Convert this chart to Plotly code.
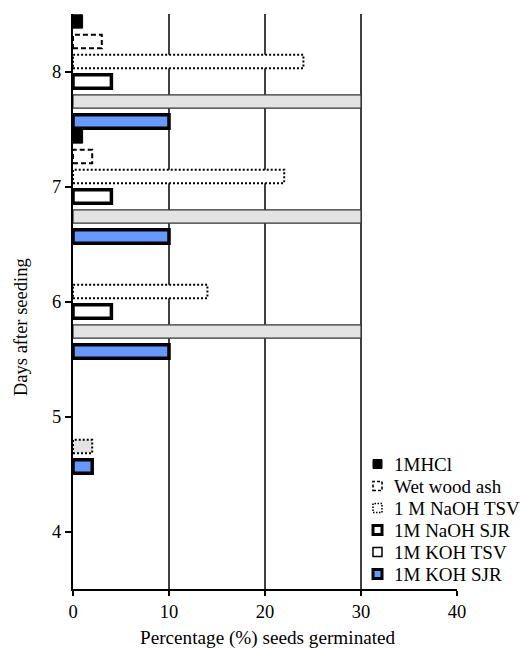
import plotly.graph_objects as go

# Days after seeding (y categories) and germination percentage per treatment
days = [4, 5, 6, 7, 8]
hcl = [0, 0, 0, 1, 1]
wood_ash = [0, 0, 0, 2, 3]
naoh_tsv = [0, 0, 14, 22, 24]
naoh_sjr = [0, 0, 4, 4, 4]
koh_tsv = [0, 2, 30, 30, 30]
koh_sjr = [0, 2, 10, 10, 10]
x_ticks = [0, 10, 20, 30, 40]
y_ticks = [4, 5, 6, 7, 8]

FONT = "Liberation Serif"
BLUE = "#6699FF"
GRAY = "#E3E3E3"

# plot area in pixels (used to place the hand-drawn legend and titles)
W, H = 522, 648
ML, MR, MT, MB = 73, 65, 14, 59
PW, PH = W - ML - MR, H - MT - MB


def px_x(px):
    return (px - ML) / PW


def px_y(py):
    return (H - MB - py) / PH


SLOT = 0.174      # spacing between bars of one day
THICK = 0.116     # bar thickness in y units

# series listed bottom to top within each day group
series = [
    dict(name="1M KOH SJR", vals=koh_sjr, fill=BLUE, line="black", lw=3.5, dash=None),
    dict(name="1M KOH TSV", vals=koh_tsv, fill=GRAY, line="#333333", lw=1.2, dash=None),
    dict(name="1M NaOH SJR", vals=naoh_sjr, fill="white", line="black", lw=3.5, dash=None),
    dict(name="1 M NaOH TSV", vals=naoh_tsv, fill="white", line="black", lw=2, dash="2px,2px"),
    dict(name="Wet wood ash", vals=wood_ash, fill="white", line="black", lw=2, dash="5px,3px"),
    dict(name="1MHCl", vals=hcl, fill="black", line="black", lw=1, dash=None),
]
# individual points drawn with a dotted outline
dotted_points = {"1M KOH TSV": [5]}

fig = go.Figure()

for i, s in enumerate(series):
    off = (i - 2.5) * SLOT - THICK / 2
    vals = [v if v else None for v in s["vals"]]
    special = dotted_points.get(s["name"], [])
    if s["dash"]:
        widths = 0
    else:
        widths = [0 if d in special else s["lw"] for d in days]
    fig.add_trace(go.Bar(
        x=vals, y=days, orientation="h", name=s["name"],
        offset=off, width=THICK,
        marker=dict(color=s["fill"], line=dict(color=s["line"], width=widths)),
        showlegend=False, hoverinfo="x+y+name",
    ))
    # dashed / dotted outlines traced around the bars
    outline_days = days if s["dash"] else special
    dash = s["dash"] or "2px,2px"
    lw = s["lw"] if s["dash"] else 2
    xs, ys = [], []
    for d, v in zip(days, s["vals"]):
        if d in outline_days and v:
            y0, y1 = d + off, d + off + THICK
            xs += [0, v, v, 0, 0, None]
            ys += [y0, y0, y1, y1, y0, None]
    if xs:
        fig.add_trace(go.Scatter(
            x=xs, y=ys, mode="lines",
            line=dict(color="black", width=lw, dash=dash),
            showlegend=False, hoverinfo="skip",
        ))

# vertical grid lines
for g in x_ticks[1:-1]:
    fig.add_shape(type="line", xref="x", yref="paper", x0=g, x1=g, y0=0, y1=1,
                  line=dict(color="black", width=1.5), layer="below")

# y axis line runs a little past the x axis
fig.add_shape(type="line", xref="paper", yref="paper", x0=0, x1=0,
              y0=px_y(596), y1=0, line=dict(color="black", width=2))

# legend drawn with small swatches, top to bottom
legend_rows = list(reversed(series))
ROW0, ROWSTEP, BOX = 464, 22, 9
for k, s in enumerate(legend_rows):
    cy = ROW0 + k * ROWSTEP
    x0, x1 = 373, 373 + BOX
    y0, y1 = cy - BOX / 2, cy + BOX / 2
    if s["dash"]:
        lw = 1.6
        dash = "3px,2px" if s["name"] == "Wet wood ash" else "1.5px,1.5px"
        fill = "white"
    else:
        lw = {"1MHCl": 1, "1M NaOH SJR": 3, "1M KOH TSV": 1.5, "1M KOH SJR": 3}[s["name"]]
        dash = "solid"
        fill = "white" if s["name"] == "1M KOH TSV" else s["fill"]
    fig.add_shape(type="rect", xref="paper", yref="paper",
                  x0=px_x(x0), x1=px_x(x1), y0=px_y(y1), y1=px_y(y0),
                  fillcolor=fill, line=dict(color="black", width=lw, dash=dash))
    fig.add_annotation(text=s["name"], xref="paper", yref="paper",
                       x=px_x(392), y=px_y(cy), xanchor="left", yanchor="middle",
                       showarrow=False, font=dict(family=FONT, size=19, color="black"))

# axis titles
fig.add_annotation(text="Percentage (%) seeds germinated", xref="paper", yref="paper",
                   x=px_x(268), y=px_y(638), xanchor="center", yanchor="middle",
                   showarrow=False, font=dict(family=FONT, size=19.2, color="black"))
fig.add_annotation(text="Days after seeding", xref="paper", yref="paper",
                   x=px_x(21), y=px_y(327), xanchor="center", yanchor="middle",
                   textangle=-90, showarrow=False,
                   font=dict(family=FONT, size=18.5, color="black"))

tick_font = dict(family=FONT, size=18.5, color="black")
fig.update_layout(
    width=W, height=H,
    margin=dict(l=ML, r=MR, t=MT, b=MB),
    paper_bgcolor="white", plot_bgcolor="white",
    barmode="overlay",
    showlegend=False,
    font=dict(family=FONT, size=18, color="black"),
    xaxis=dict(range=[0, 40], tickvals=x_ticks, showgrid=False, zeroline=False,
               showline=True, linecolor="black", linewidth=2, tickfont=tick_font,
               ticks="outside", ticklen=5, tickwidth=1.5, tickcolor="black"),
    yaxis=dict(range=[3.5, 8.5], tickvals=y_ticks, showgrid=False, zeroline=False,
               showline=True, linecolor="black", linewidth=2, tickfont=tick_font,
               ticks="outside", ticklen=6, tickwidth=1.5, tickcolor="black"),
)

fig.write_html("out.html")
